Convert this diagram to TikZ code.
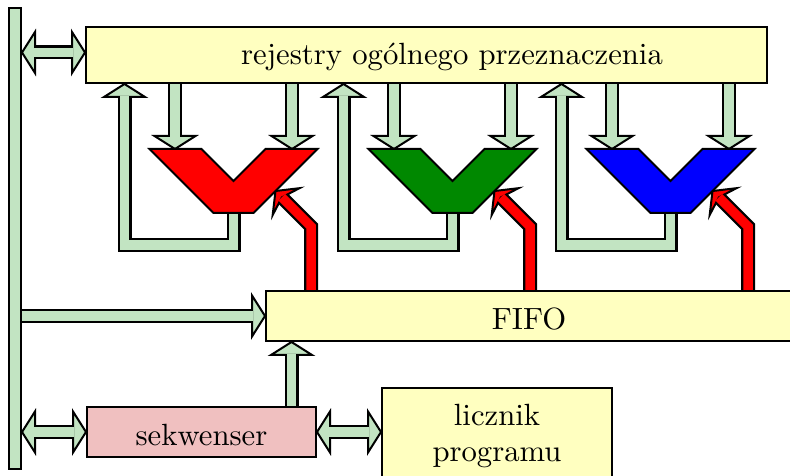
\documentclass[tikz,border=0pt]{standalone}
\usetikzlibrary{backgrounds,calc}
\newdimen\PX \PX=0.3257pt
\definecolor{busgreen}{RGB}{194,228,194}
\definecolor{regyellow}{RGB}{255,255,192}
\definecolor{seqpink}{RGB}{240,192,192}
\definecolor{aluA}{RGB}{255,0,0}
\definecolor{aluB}{RGB}{0,136,0}
\definecolor{aluC}{RGB}{0,0,255}
\tikzset{
  box/.style={draw=black, line width=2\PX, fill=regyellow, inner sep=0pt},
  oneline/.style={text height=8.5pt, text depth=0pt},
  fatrim/.style={line width=14\PX, draw=black, line join=miter},
  fatcore/.style={line width=9.5\PX, draw=#1, line join=miter},
  headst/.style={draw=black, line width=2\PX, line join=miter},
  alust/.style={draw=black, line width=2\PX, line join=miter},
}
% head of a fat arrow: fill colour, tip, direction angle
\newcommand\fathead[3]{%
  \begin{scope}[shift={#2}, rotate=#3]
    \filldraw[headst, fill=#1] (0,0) -- (-13,20.5) -- (-13,-20.5) -- cycle;
  \end{scope}}
\newcommand\stealthhead[3]{%
  \begin{scope}[shift={#2}, rotate=#3]
    \filldraw[headst, fill=#1] (0,0) -- (-15,19) -- (-9,0) -- (-15,-19) -- cycle;
  \end{scope}}
% fat connector: core colour, path, heads
\newcommand\fatarrow[3]{\draw[fatrim] #2; #3 \draw[fatcore=#1] #2;}
\begin{document}
\begin{tikzpicture}[x=\PX, y=-\PX]
\useasboundingbox (0,0) rectangle (790,476);

% blocks
\node[box, fill=busgreen, minimum width=12\PX, minimum height=461\PX] (bus) at (15,238.5) {};
\node[box, minimum width=681\PX, minimum height=56\PX] (reg) at (426.5,55) {};
\node[anchor=base] (regtext) at (452,65) {rejestry ogólnego przeznaczenia};
\node[box, oneline, minimum width=526\PX, minimum height=50\PX] (fifo) at (529,316) {FIFO};
\node[box, oneline, fill=seqpink, minimum width=229\PX, minimum height=50\PX] (seq) at (201.5,432) {sekwenser};
\node[box, align=center, minimum width=230\PX, minimum height=96\PX] (pc) at (497,436) {licznik\\programu};

% ALUs and their connectors
\foreach \c/\col/\n in {233.5/aluA/1, 452.5/aluB/2, 670.5/aluC/3}{
  \filldraw[alust, fill=\col] (\c-84,149) -- (\c-32,149) -- (\c,181) -- (\c+32,149)
     -- (\c+84,149) -- (\c+20,213) -- (\c-20,213) -- cycle;
  \coordinate (alu\n-inL) at (\c-58.5,149);
  \coordinate (alu\n-inR) at (\c+58.5,149);
  \coordinate (alu\n-out) at (\c,213);
  \coordinate (alu\n-ctl) at (\c+42,191);
  \coordinate (fb\n) at (reg.south -| \c-109,0);
  \coordinate (ff\n) at (fifo.north -| \c+77.5,0);
  \begin{pgfonlayer}{background}
    \fatarrow{busgreen}{(reg.south -| alu\n-inL) -- ($(alu\n-inL)+(0,-12)$)}
      {\fathead{busgreen}{(alu\n-inL)}{-90}}
    \fatarrow{busgreen}{(reg.south -| alu\n-inR) -- ($(alu\n-inR)+(0,-12)$)}
      {\fathead{busgreen}{(alu\n-inR)}{-90}}
    \fatarrow{busgreen}{(alu\n-out) -- ++(0,32) -| ($(fb\n)+(0,12)$)}
      {\fathead{busgreen}{(fb\n)}{90}}
    \fatarrow{aluA}{(ff\n) -- (\c+77.5,226.5) -- ($(alu\n-ctl)+(6.36,6.36)$)}
      {\stealthhead{aluA}{(alu\n-ctl)}{135}}
  \end{pgfonlayer}
}

% bus and control connectors
\coordinate (b1) at (bus.east |- 0,52.5);
\coordinate (r1) at (reg.west |- b1);
\coordinate (b2) at (bus.east |- fifo.west);
\coordinate (b3) at (bus.east |- seq.west);
\coordinate (p1) at (pc.west |- seq.east);
\coordinate (s1) at (seq.north -| 291.5,0);
\coordinate (f1) at (fifo.south -| s1);
\begin{pgfonlayer}{background}
  \fatarrow{busgreen}{($(b1)+(12,0)$) -- ($(r1)+(-12,0)$)}
    {\fathead{busgreen}{(b1)}{180}\fathead{busgreen}{(r1)}{0}}
  \fatarrow{busgreen}{(b2) -- ($(fifo.west)+(-12,0)$)}
    {\fathead{busgreen}{(fifo.west)}{0}}
  \fatarrow{busgreen}{($(b3)+(12,0)$) -- ($(seq.west)+(-12,0)$)}
    {\fathead{busgreen}{(b3)}{180}\fathead{busgreen}{(seq.west)}{0}}
  \fatarrow{busgreen}{($(seq.east)+(12,0)$) -- ($(p1)+(-12,0)$)}
    {\fathead{busgreen}{(seq.east)}{180}\fathead{busgreen}{(p1)}{0}}
  \fatarrow{busgreen}{(s1) -- ($(f1)+(0,12)$)}
    {\fathead{busgreen}{(f1)}{90}}
\end{pgfonlayer}
\end{tikzpicture}
\end{document}
